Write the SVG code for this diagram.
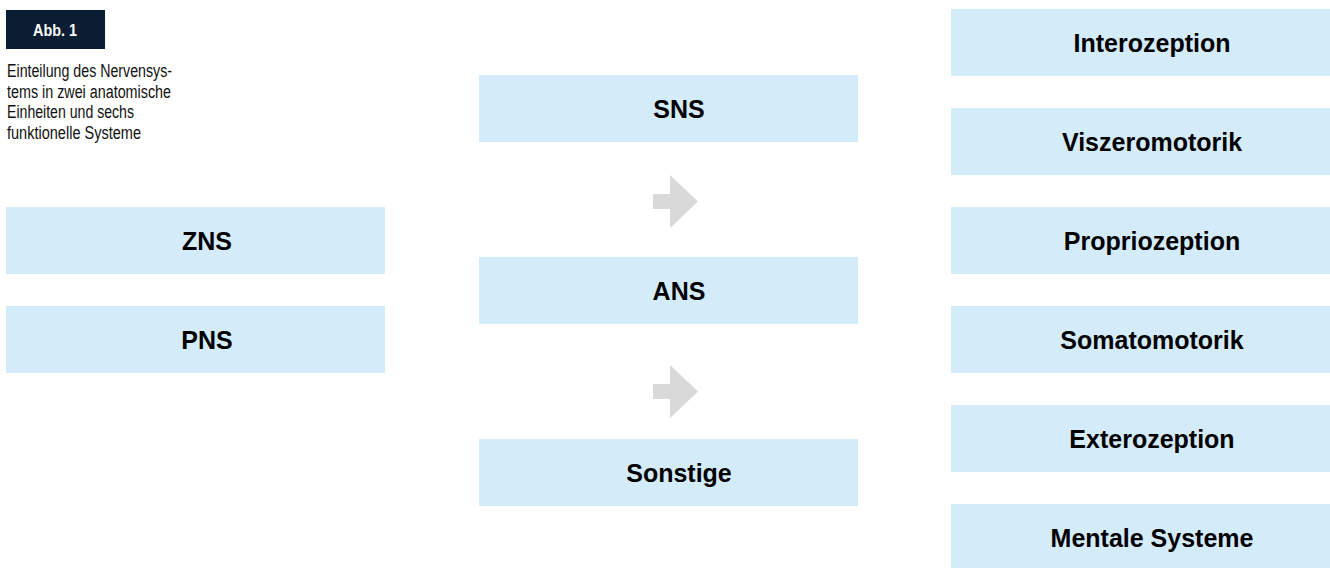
<svg xmlns="http://www.w3.org/2000/svg" width="1330" height="568" viewBox="0 0 1330 568">
  <style>
    .box { fill: #D4EBFA; }
    .lbl { font-family: "Liberation Sans", Arial, sans-serif; font-weight: bold; font-size: 25px; fill: #000; text-anchor: middle; }
    .cap { font-family: "Liberation Sans", Arial, sans-serif; font-size: 18px; fill: #111; }
    .arrow { fill: #D9D9D9; }
  </style>
  <rect width="1330" height="568" fill="#fff"/>

  <g id="legend">
    <rect x="6" y="10" width="99" height="39" fill="#0B1D33"/>
    <text x="33" y="36" font-family="Liberation Sans, Arial, sans-serif" font-weight="bold" font-size="16" fill="#fff" textLength="44" lengthAdjust="spacingAndGlyphs">Abb. 1</text>
    <text class="cap" x="7" y="77" textLength="165" lengthAdjust="spacingAndGlyphs">Einteilung des Nervensys-</text>
    <text class="cap" x="7" y="98" textLength="164" lengthAdjust="spacingAndGlyphs">tems in zwei anatomische</text>
    <text class="cap" x="7" y="118" textLength="127" lengthAdjust="spacingAndGlyphs">Einheiten und sechs</text>
    <text class="cap" x="7" y="139" textLength="134" lengthAdjust="spacingAndGlyphs">funktionelle Systeme</text>
  </g>

  <g id="zns"><rect class="box" x="6" y="207" width="379" height="67"/><text class="lbl" x="207" y="250">ZNS</text></g>
  <g id="pns"><rect class="box" x="6" y="306" width="379" height="67"/><text class="lbl" x="207" y="349">PNS</text></g>

  <g id="sns"><rect class="box" x="479" y="75" width="379" height="67"/><text class="lbl" x="679" y="118">SNS</text></g>
  <g id="ans"><rect class="box" x="479" y="257" width="379" height="67"/><text class="lbl" x="679" y="300">ANS</text></g>
  <g id="sonstige"><rect class="box" x="479" y="439" width="379" height="67"/><text class="lbl" x="679" y="482">Sonstige</text></g>

  <g id="interozeption"><rect class="box" x="951" y="9" width="379" height="67"/><text class="lbl" x="1152" y="52">Interozeption</text></g>
  <g id="viszeromotorik"><rect class="box" x="951" y="108" width="379" height="67"/><text class="lbl" x="1152" y="151">Viszeromotorik</text></g>
  <g id="propriozeption"><rect class="box" x="951" y="207" width="379" height="67"/><text class="lbl" x="1152" y="250">Propriozeption</text></g>
  <g id="somatomotorik"><rect class="box" x="951" y="306" width="379" height="67"/><text class="lbl" x="1152" y="349">Somatomotorik</text></g>
  <g id="exterozeption"><rect class="box" x="951" y="405" width="379" height="67"/><text class="lbl" x="1152" y="448">Exterozeption</text></g>
  <g id="mentale-systeme"><rect class="box" x="951" y="504" width="379" height="67"/><text class="lbl" x="1152" y="547">Mentale Systeme</text></g>

  <g id="connectors">
    <polygon class="arrow" points="653,194 670,194 670,175 698,201.5 670,228 670,209 653,209"/>
    <polygon class="arrow" points="653,384 670,384 670,365 698,391.5 670,418 670,399 653,399"/>
  </g>
</svg>
